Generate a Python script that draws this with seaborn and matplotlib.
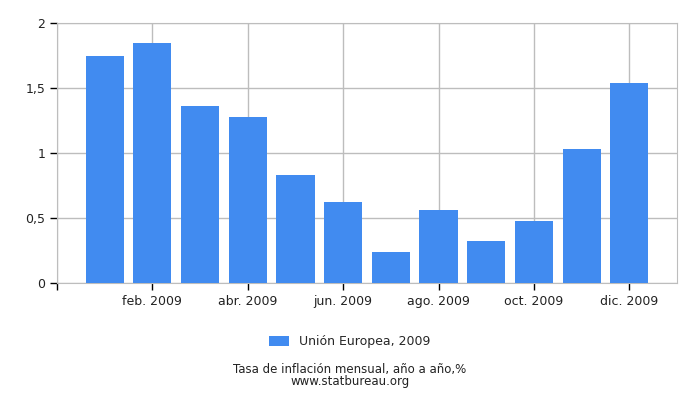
import pandas as pd
import matplotlib
matplotlib.use("Agg")
import matplotlib.pyplot as plt
import seaborn as sns

# Datos
meses = ["ene. 2009", "feb. 2009", "mar. 2009", "abr. 2009", "may. 2009", "jun. 2009",
         "jul. 2009", "ago. 2009", "sep. 2009", "oct. 2009", "nov. 2009", "dic. 2009"]
inflacion = [1.75, 1.85, 1.36, 1.28, 0.83, 0.62, 0.24, 0.56, 0.32, 0.48, 1.03, 1.54]
serie = "Unión Europea, 2009"
titulo = "Tasa de inflación mensual, año a año,%"
fuente = "www.statbureau.org"

df = pd.DataFrame({"mes": meses, "valor": inflacion, "serie": serie})

sns.set_style("white")
plt.rcParams["font.family"] = ["DejaVu Sans"]

fig = plt.figure(figsize=(7, 4), dpi=100)
ax = fig.add_axes([57 / 700, 1 - 283 / 400, 620 / 700, 260 / 400])

sns.barplot(data=df, x="mes", y="valor", hue="serie", order=meses,
            palette=["#418bf0"], width=0.8, saturation=1, linewidth=0,
            ax=ax, zorder=3)

ax.set_xlim(-1, 12)
ax.set_ylim(0, 2)
ticks_x = list(range(-1, 12, 2))
ax.set_xticks(ticks_x)
ax.set_xticklabels([""] + [meses[i] for i in ticks_x[1:]])
ax.set_yticks([0, 0.5, 1, 1.5, 2])
ax.set_yticklabels(["0", "0,5", "1", "1,5", "2"])
ax.grid(True, color="#bdbdbd", linewidth=1, zorder=0)
ax.set_axisbelow(True)
for s in ax.spines.values():
    s.set_color("#bdbdbd")
ax.tick_params(axis="both", direction="out", length=5, width=1, color="black",
               labelsize=9, labelcolor="#222222", bottom=True, left=True)
ax.set_xlabel("")
ax.set_ylabel("")

ax.legend(loc="center", bbox_to_anchor=(350 / 700, 1 - 342 / 400),
          bbox_transform=fig.transFigure, frameon=False, fontsize=9,
          handlelength=1.6, handleheight=0.8)

fig.text(0.5, 1 - 370 / 400, titulo, ha="center", va="center", fontsize=8.5, color="#222222")
fig.text(0.5, 1 - 382 / 400, fuente, ha="center", va="center", fontsize=8.5, color="#222222")

fig.savefig("out.png", dpi=100)
